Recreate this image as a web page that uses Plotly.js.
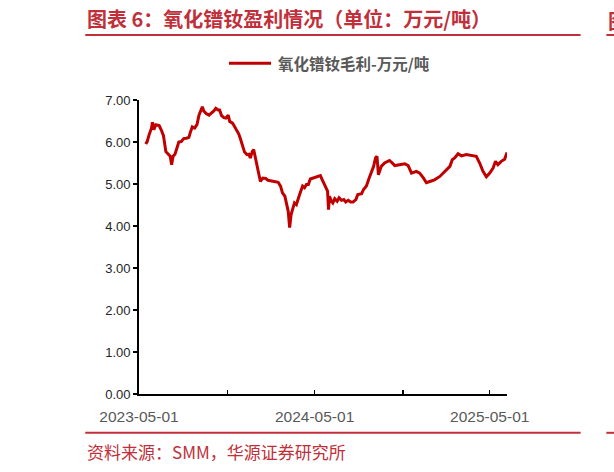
<!DOCTYPE html>
<html>
<head>
<meta charset="utf-8">
<script src="https://cdn.plot.ly/plotly-3.0.1.min.js"></script>
<style>
  html, body { margin: 0; padding: 0; background: #fff; }
  #chart { width: 614px; height: 472px; }
</style>
</head>
<body>
<div id="chart"></div>
<script>
// Gross margin of PrNd oxide, 10k yuan / tonne
var dates = [
    '2023-05-15', '2023-05-18', '2023-05-22', '2023-05-27', '2023-05-29', '2023-06-01', '2023-06-05',
    '2023-06-12', '2023-06-17', '2023-06-21', '2023-06-26', '2023-06-30', '2023-07-05', '2023-07-08',
    '2023-07-11', '2023-07-15', '2023-07-19', '2023-07-23', '2023-07-28', '2023-08-02', '2023-08-08',
    '2023-08-13', '2023-08-16', '2023-08-20', '2023-08-25', '2023-08-30', '2023-09-03', '2023-09-06',
    '2023-09-10', '2023-09-13', '2023-09-18', '2023-09-24', '2023-09-29', '2023-10-04', '2023-10-08',
    '2023-10-13', '2023-10-16', '2023-10-20', '2023-10-25', '2023-10-29', '2023-11-03', '2023-11-06',
    '2023-11-12', '2023-11-16', '2023-11-21', '2023-11-25', '2023-11-28', '2023-12-03', '2023-12-07',
    '2023-12-12', '2023-12-16', '2023-12-19', '2023-12-23', '2023-12-26', '2023-12-30', '2024-01-02',
    '2024-01-06', '2024-01-09', '2024-01-14', '2024-01-20', '2024-01-25', '2024-02-04', '2024-02-15',
    '2024-02-20', '2024-02-24', '2024-02-29', '2024-03-03', '2024-03-07', '2024-03-10', '2024-03-13',
    '2024-03-16', '2024-03-20', '2024-03-24', '2024-03-28', '2024-04-01', '2024-04-06', '2024-04-10',
    '2024-04-14', '2024-04-18', '2024-04-22', '2024-04-28', '2024-05-03', '2024-05-09', '2024-05-13',
    '2024-05-17', '2024-05-21', '2024-05-24', '2024-05-28', '2024-05-30', '2024-06-01', '2024-06-05',
    '2024-06-08', '2024-06-12', '2024-06-17', '2024-06-21', '2024-06-26', '2024-07-01', '2024-07-05',
    '2024-07-10', '2024-07-15', '2024-07-20', '2024-07-26', '2024-07-30', '2024-08-07', '2024-08-11',
    '2024-08-17', '2024-08-22', '2024-08-27', '2024-09-01', '2024-09-05', '2024-09-08', '2024-09-11',
    '2024-09-17', '2024-09-24', '2024-10-04', '2024-10-10', '2024-10-15', '2024-10-25', '2024-11-05',
    '2024-11-12', '2024-11-19', '2024-11-29', '2024-12-06', '2024-12-14', '2024-12-20', '2024-12-27',
    '2025-01-06', '2025-01-17', '2025-01-27', '2025-02-07', '2025-02-12', '2025-02-17', '2025-02-24',
    '2025-03-03', '2025-03-13', '2025-03-24', '2025-04-03', '2025-04-10', '2025-04-17', '2025-04-24',
    '2025-05-01', '2025-05-08', '2025-05-13', '2025-05-18', '2025-05-25', '2025-06-01', '2025-06-06'
];
var margin = [
    5.95, 6.01, 6.17, 6.33, 6.47, 6.29, 6.41,
    6.39, 6.27, 6.15, 5.77, 5.71, 5.66, 5.46,
    5.66, 5.71, 5.86, 6.00, 6.01, 6.08, 6.09,
    6.11, 6.23, 6.36, 6.33, 6.42, 6.64, 6.72,
    6.84, 6.74, 6.68, 6.64, 6.68, 6.74, 6.80,
    6.76, 6.76, 6.63, 6.58, 6.57, 6.64, 6.49,
    6.45, 6.37, 6.27, 6.19, 6.09, 5.93, 5.76,
    5.70, 5.71, 5.62, 5.77, 5.82, 5.62, 5.42,
    5.24, 5.06, 5.14, 5.13, 5.09, 5.06, 5.04,
    4.95, 4.79, 4.71, 4.55, 4.35, 3.96, 4.27,
    4.39, 4.55, 4.51, 4.67, 4.79, 4.95, 4.91,
    4.99, 4.99, 5.12, 5.14, 5.17, 5.18, 5.20,
    5.10, 4.99, 4.91, 4.83, 4.39, 4.71, 4.59,
    4.55, 4.65, 4.59, 4.67, 4.61, 4.63, 4.57,
    4.61, 4.57, 4.57, 4.63, 4.75, 4.77, 4.87,
    4.95, 5.12, 5.26, 5.42, 5.62, 5.66, 5.22,
    5.42, 5.50, 5.56, 5.50, 5.44, 5.46, 5.48,
    5.44, 5.26, 5.30, 5.26, 5.14, 5.03, 5.06,
    5.10, 5.18, 5.30, 5.42, 5.58, 5.62, 5.72,
    5.67, 5.70, 5.67, 5.66, 5.50, 5.30, 5.17,
    5.26, 5.38, 5.54, 5.46, 5.54, 5.59, 5.75
];
var seriesName = '氧化镨钕毛利-万元/吨';
var tickDates = ['2023-05-01', '2023-11-01', '2024-05-01', '2024-11-01', '2025-05-01'];
var tickLabels = ['2023-05-01', '', '2024-05-01', '', '2025-05-01'];

var RED = '#C0303A';
var LINE = '#C00000';

const trace = {
    x: dates,
    y: margin,
    type: 'scatter',
    mode: 'lines',
    name: seriesName,
    line: { color: LINE, width: 3 },
    showlegend: false,
    hoverinfo: 'skip'
};

// Horizontal rules above and below the chart (paper coordinates)
function rule(y, x0, x1, color, width) {
    return {
        type: 'line', xref: 'paper', yref: 'paper',
        x0: x0, x1: x1, y0: y, y1: y,
        line: { color: color || RED, width: width || 2 }
    };
}

const layout = {
    width: 614,
    height: 472,
    margin: { l: 139, r: 107, t: 100, b: 78 },
    paper_bgcolor: '#fff',
    plot_bgcolor: '#fff',
    font: { family: 'Liberation Sans, Arial, sans-serif', color: '#262626' },
    title: {
        text: '图表 6：氧化镨钕盈利情况（单位：万元/吨）',
        xref: 'container', yref: 'container',
        x: 87 / 614, xanchor: 'left',
        y: 1 - 20 / 472, yanchor: 'middle',
        font: { family: 'Noto Sans CJK SC', size: 20, color: RED, weight: 'bold' }
    },
    xaxis: {
        type: 'date',
        range: ['2023-05-01', '2025-06-06'],
        tickmode: 'array',
        tickvals: tickDates,
        ticktext: tickLabels,
        ticks: 'inside',
        ticklen: 4,
        tickwidth: 1.5,
        tickcolor: '#000',
        ticklabelstandoff: 8,
        showline: true,
        linecolor: '#000',
        linewidth: 1.8,
        showgrid: false,
        zeroline: false,
        tickfont: { size: 15.5, color: '#595959' }
    },
    yaxis: {
        range: [0, 7],
        dtick: 1,
        tickformat: '.2f',
        ticks: 'outside',
        ticklen: 4,
        tickwidth: 1.5,
        tickcolor: '#000',
        showline: true,
        linecolor: '#000',
        linewidth: 1.8,
        showgrid: false,
        zeroline: false,
        tickfont: { size: 13, color: '#262626' }
    },
    shapes: [
        rule(1.221, -0.146, 1.200),
        rule(-0.132, -0.146, 1.200),
        rule(1.221, 1.270, 1.300),
        rule(-0.132, 1.270, 1.300),
        // legend sample line
        rule(1.1246, (229 - 139) / 368, (271 - 139) / 368, LINE, 3)
    ],
    annotations: [
        {
            text: seriesName,
            xref: 'paper', yref: 'paper',
            x: (276 - 139) / 368, xanchor: 'left',
            y: 1.1246, yanchor: 'middle',
            showarrow: false,
            font: { family: 'Noto Sans CJK SC', size: 15.5, color: '#595959', weight: 'bold' }
        },
        {
            text: '资料来源：SMM，华源证券研究所',
            xref: 'paper', yref: 'paper',
            x: -0.148, xanchor: 'left',
            y: -0.197, yanchor: 'middle',
            showarrow: false,
            font: { family: 'Noto Sans CJK SC', size: 17, color: RED }
        },
        {
            text: '图',
            xref: 'paper', yref: 'paper',
            x: 1.27, xanchor: 'left',
            y: 1.27, yanchor: 'middle',
            showarrow: false,
            font: { family: 'Noto Sans CJK SC', size: 20, color: RED, weight: 'bold' }
        }
    ]
};

Plotly.newPlot('chart', [trace], layout, { displayModeBar: false, staticPlot: true });
</script>
</body>
</html>
